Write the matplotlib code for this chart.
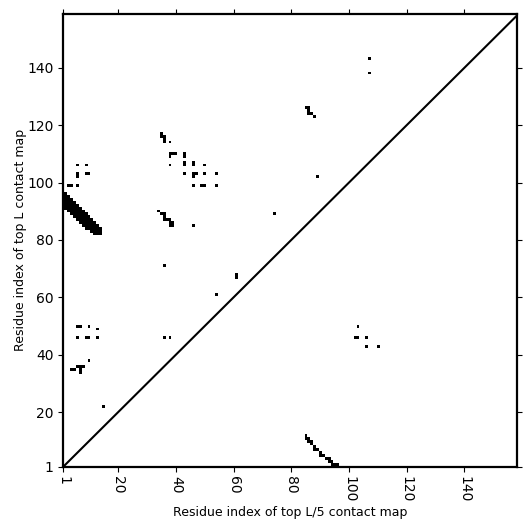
import numpy as np
import matplotlib
matplotlib.use('Agg')
import matplotlib.pyplot as plt

L = 158
tick_values = [1, 20, 40, 60, 80, 100, 120, 140]

# Upper-left triangle: top L contacts (x = residue i, y = residue j)
band_x = [1, 1, 1, 1,
          2, 2, 2, 2, 2, 2,
          3, 3, 3, 3, 3, 3,
          4, 4, 4, 4, 4, 4,
          5, 5, 5, 5, 5, 5,
          6, 6, 6, 6, 6, 6,
          7, 7, 7, 7, 7, 7,
          8, 8, 8, 8, 8, 8,
          9, 9, 9, 9, 9, 9,
          10, 10, 10, 10, 10,
          11, 11, 11, 11, 11,
          12, 12, 12, 12, 12,
          13, 13, 13, 13,
          14, 14, 14]
band_y = [93, 94, 95, 96,
          91, 92, 93, 94, 95, 96,
          90, 91, 92, 93, 94, 95,
          89, 90, 91, 92, 93, 94,
          88, 89, 90, 91, 92, 93,
          87, 88, 89, 90, 91, 92,
          86, 87, 88, 89, 90, 91,
          85, 86, 87, 88, 89, 90,
          84, 85, 86, 87, 88, 89,
          84, 85, 86, 87, 88,
          83, 84, 85, 86, 87,
          82, 83, 84, 85, 86,
          82, 83, 84, 85,
          82, 83, 84]

upper_x = [3, 4, 6, 6, 6, 9, 10, 6, 9,
           34, 35, 36, 36, 36, 37, 38, 38, 39, 38, 39,
           35, 35, 36, 36, 36, 38, 38, 39, 40, 38, 43, 43, 38, 43, 43, 46, 46, 50,
           43, 46, 47, 46, 50, 54, 46, 49, 50, 54, 46, 74, 36, 61, 61, 54,
           6, 7, 10, 13, 6, 9, 10, 13, 36, 38, 10, 4, 5, 6, 7, 8, 7, 7, 15,
           85, 86, 86, 86, 87, 88, 89, 107, 107]
upper_y = [99, 99, 99, 102, 103, 103, 103, 106, 106,
           90, 89, 89, 88, 87, 87, 87, 86, 86, 85, 85,
           117, 116, 116, 115, 114, 114, 110, 110, 110, 109, 109, 110, 106, 106, 107, 106, 107, 106,
           103, 103, 103, 102, 103, 103, 99, 99, 99, 99, 85, 89, 71, 67, 68, 61,
           50, 50, 50, 49, 46, 46, 46, 46, 46, 46, 38, 35, 35, 36, 36, 36, 35, 34, 22,
           126, 126, 125, 124, 124, 123, 102, 143, 138]

# Lower-right triangle: top L/5 contacts
lower_x = [85, 85, 86, 86, 87, 87, 88, 88, 89, 90, 90, 91, 92, 93, 93, 94, 94, 95, 96,
           103, 102, 103, 106, 106, 110]
lower_y = [12, 11, 11, 10, 10, 9, 8, 7, 7, 6, 5, 5, 4, 4, 3, 3, 2, 2, 2,
           50, 46, 46, 46, 43, 43]

M = np.zeros((L, L))
for xs, ys in ((band_x, band_y), (upper_x, upper_y), (lower_x, lower_y)):
    for x, y in zip(xs, ys):
        M[y - 1, x - 1] = 1

fig = plt.figure(figsize=(5.31, 5.31), dpi=100)
ax = fig.add_axes([0.1192, 0.1211, 0.855, 0.8525])
ax.imshow(M, cmap='Greys', vmin=0, vmax=1, origin='lower', interpolation='nearest',
          extent=(0.5, L + 0.5, 0.5, L + 0.5), aspect='auto')
ax.plot([1, L + 1], [1, L + 1], color='black', lw=1.5)
ax.set_xlim(1, 158.3)
ax.set_ylim(1, 158.7)
ax.set_xticks(tick_values)
ax.set_xticklabels([str(t) for t in tick_values], rotation=270)
ax.set_yticks(tick_values)
ax.set_yticklabels([str(t) for t in tick_values])
ax.tick_params(top=True, right=True, labeltop=False, labelright=False, labelsize=10)
for s in ax.spines.values():
    s.set_linewidth(1.6)
ax.set_xlabel('Residue index of top L/5 contact map', fontsize=9, labelpad=2)
ax.set_ylabel('Residue index of top L contact map', fontsize=9, labelpad=0)
fig.savefig('out.png', dpi=100)
